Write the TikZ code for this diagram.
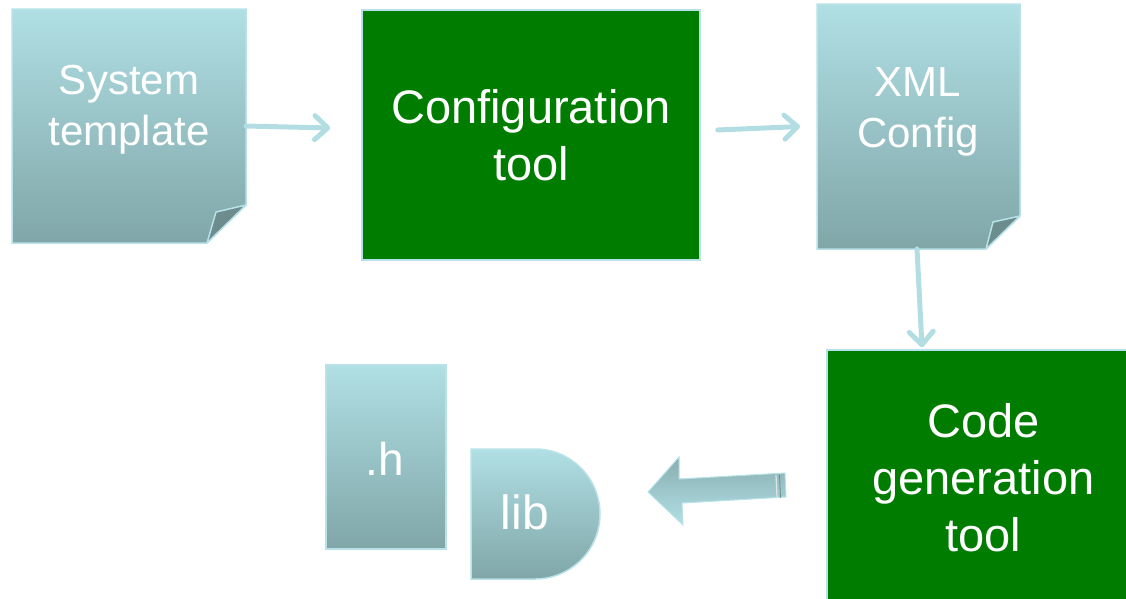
\documentclass[tikz,border=0pt]{standalone}
\usepackage{fontspec}
\setmainfont{Liberation Sans}
\usetikzlibrary{arrows.meta,calc}
\definecolor{docTop}{RGB}{176,223,228}
\definecolor{docBot}{RGB}{128,166,168}
\definecolor{docEdge}{RGB}{184,226,231}
\definecolor{foldC}{RGB}{108,140,141}
\definecolor{toolG}{RGB}{0,125,0}
\definecolor{connC}{RGB}{178,222,227}
\definecolor{barTop}{RGB}{136,174,176}
\definecolor{barBot}{RGB}{178,224,230}
\begin{document}
\begin{tikzpicture}[x=1pt,y=-1pt,
  lbl/.style={text=white, align=center, inner sep=0pt},
  bigtxt/.style={font=\fontsize{47}{57}\selectfont},
  doctxt/.style={font=\fontsize{42}{51}\selectfont},
  frame/.style={minimum width=#1, inner sep=0pt, outer sep=0pt},
  docfill/.style={top color=docTop, bottom color=docBot, draw=docEdge, line width=1.5pt},
  foldfill/.style={fill=foldC, draw=docEdge, line width=1.5pt, line join=round},
  tool/.style={fill=toolG, draw=docEdge, line width=1.5pt, inner sep=0pt, lbl, bigtxt},
  conn/.style={draw=connC, line width=5pt, line cap=round,
    -{Straight Barb[length=13pt,width=24pt,line cap=round,line join=round]}}]
\useasboundingbox (0,0) rectangle (1126,598);
\clip (0,0) rectangle (1126,598);

% --- System template (dog-eared note)
\node[frame=234pt, minimum height=234pt] (tmpl) at (129,126) {};
\path[docfill] (tmpl.north west) -- (tmpl.north east)
  -- ([yshift=38pt]tmpl.south east) -- ([xshift=-39pt]tmpl.south east)
  -- (tmpl.south west) -- cycle;
\path[foldfill] ([yshift=38pt]tmpl.south east) -- ([xshift=-39pt]tmpl.south east)
  -- ([xshift=-30pt,yshift=31pt]tmpl.south east) -- cycle;
\node[lbl, doctxt] (tmplT) at (129,110) {System\\template};

% --- Configuration tool
\node[tool, minimum width=338pt, minimum height=250pt] (cfg) at (531,135) {Configuration\\tool};

% --- XML Config (dog-eared note)
\node[frame=203pt, minimum height=245pt] (xml) at (918.5,126.5) {};
\path[docfill] (xml.north west) -- (xml.north east)
  -- ([yshift=33pt]xml.south east) -- ([xshift=-34pt]xml.south east)
  -- (xml.south west) -- cycle;
\path[foldfill] ([yshift=33pt]xml.south east) -- ([xshift=-34pt]xml.south east)
  -- ([xshift=-27pt,yshift=27pt]xml.south east) -- cycle;
\node[lbl, doctxt] (xmlT) at (918,112) {XML\\Config};

% --- Code generation tool
\node[tool, minimum width=313pt, minimum height=256pt] (code) at (983.5,478) {Code\\generation\\tool};

% --- .h header file
\node[frame=120pt, minimum height=184pt, docfill] (hdr) at (386,457) {};
\node[lbl, font=\fontsize{46}{52}\selectfont] (hdrT) at (385,459) {.h};

% --- lib (D-shaped)
\node[frame=129pt, minimum height=130pt] (lib) at (535.5,514) {};
\path[docfill] (471,449) -- (535,449)
  .. controls (570.9,449) and (600,478.1) .. (600,514)
  .. controls (600,549.9) and (570.9,579) .. (535,579)
  -- (471,579) -- cycle;
\node[lbl, font=\fontsize{48}{52}\selectfont] (libT) at (525,512.5) {lib};

% --- connectors
\draw[conn] (tmpl.east) -- ([xshift=-31pt,yshift=7pt]cfg.west);
\draw[conn] ([xshift=17pt,yshift=5pt]cfg.east) -- ([xshift=-17pt]xml.west);
\draw[conn] ([xshift=-1.5pt]xml.south) -- ([xshift=-61.5pt,yshift=2pt]code.north);

% --- block arrow from the code generator back to the outputs
\path[top color=barTop, bottom color=barBot, draw=docEdge, line width=1pt, line join=miter]
  (648,492) -- (679,457) -- (679,479) -- (785,473) -- (786,497)
  -- (682,503) -- (683,525) -- cycle;
\draw[white!70!barTop, line width=1.2pt] (776,475) -- (777,498);
\draw[barTop!80!black, line width=0.8pt] (779.5,475) -- (780.5,497.5);
\end{tikzpicture}
\end{document}
